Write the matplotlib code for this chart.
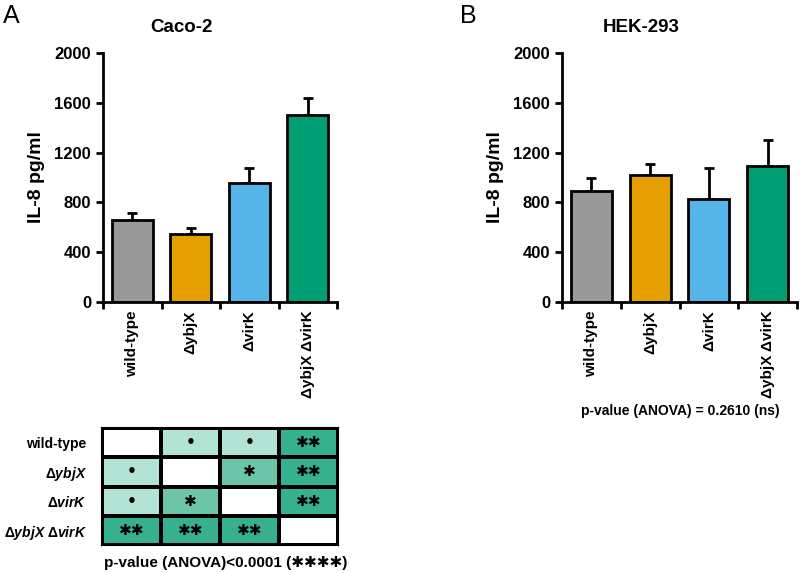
import numpy as np
import matplotlib
matplotlib.use('Agg')
import matplotlib.pyplot as plt
from matplotlib.colors import ListedColormap

plt.rcParams['font.family'] = ['Liberation Sans', 'DejaVu Sans']
plt.rcParams['font.weight'] = 'bold'
plt.rcParams['mathtext.fontset'] = 'custom'
plt.rcParams['mathtext.rm'] = 'Liberation Sans:bold'
plt.rcParams['mathtext.it'] = 'Liberation Sans:bold:italic'

# data
strains = ['wild-type', 'ΔybjX', 'ΔvirK', 'ΔybjX ΔvirK']
strains_it = ['wild-type', r'Δ$\mathit{ybjX}$', r'Δ$\mathit{virK}$',
              r'Δ$\mathit{ybjX}$ Δ$\mathit{virK}$']
bar_colors = ['#999999', '#e69f00', '#56b4e9', '#009e73']

caco_mean = [660, 545, 958, 1500]
caco_err = [58, 48, 118, 138]
hek_mean = [895, 1020, 825, 1093]
hek_err = [100, 85, 255, 208]

# pairwise significance (Caco-2)
sig = [['', '•', '•', '✱✱'],
       ['•', '', '✱', '✱✱'],
       ['•', '✱', '', '✱✱'],
       ['✱✱', '✱✱', '✱✱', '']]
sig_levels = {'': 0, '•': 1, '✱': 2, '✱✱': 3}
sig_colors = ['#ffffff', '#b3e3d5', '#6cc5a8', '#36b08e']

caco_p = 'p-value (ANOVA)<0.0001 (✱✱✱✱)'
hek_p = 'p-value (ANOVA) = 0.2610 (ns)'

fig = plt.figure(figsize=(8, 5.73), dpi=100)


def bar_panel(rect, means, errs):
    ax = fig.add_axes(rect)
    x = np.arange(len(means))
    ax.bar(x, means, width=0.7, color=bar_colors, edgecolor='black', linewidth=2, zorder=2)
    ax.errorbar(x, means, yerr=[np.zeros(len(errs)), errs], fmt='none', ecolor='black',
                elinewidth=2, capsize=3.5, capthick=2, zorder=1)
    ax.set_xlim(-0.5, len(means) - 0.5)
    ax.set_ylim(0, 2000)
    ax.set_yticks([0, 400, 800, 1200, 1600, 2000])
    ax.set_xticks(np.arange(-0.5, len(means)))
    ax.set_xticklabels([])
    for i, s in enumerate(strains):
        ax.text(i, -0.035, s, transform=ax.get_xaxis_transform(), rotation=90,
                ha='center', va='top', fontsize=11, fontweight='bold')
    ax.spines['top'].set_visible(False)
    ax.spines['right'].set_visible(False)
    ax.spines['left'].set_linewidth(2)
    ax.spines['bottom'].set_linewidth(2)
    ax.tick_params(axis='y', direction='out', width=2, length=5, labelsize=12)
    ax.tick_params(axis='x', direction='out', width=2, length=5)
    ax.set_ylabel('IL-8 pg/ml', fontsize=14, fontweight='bold', labelpad=7)
    return ax


axA = bar_panel([103 / 800, 1 - 302 / 573, 234 / 800, 249 / 573], caco_mean, caco_err)
axB = bar_panel([562 / 800, 1 - 302 / 573, 235 / 800, 249 / 573], hek_mean, hek_err)

fig.text(181 / 800, 1 - 28 / 573, 'Caco-2', ha='center', va='center', fontsize=13.5, fontweight='bold')
fig.text(641 / 800, 1 - 28 / 573, 'HEK-293', ha='center', va='center', fontsize=13.5, fontweight='bold')
fig.text(3 / 800, 1 - 16 / 573, 'A', ha='left', va='center', fontsize=18, fontweight='normal')
fig.text(460 / 800, 1 - 16 / 573, 'B', ha='left', va='center', fontsize=18, fontweight='normal')

# significance matrix
axT = fig.add_axes([102 / 800, 1 - 545 / 573, 236 / 800, 117 / 573])
levels = np.array([[sig_levels[s] for s in row] for row in sig])
axT.pcolormesh(levels, cmap=ListedColormap(sig_colors), vmin=-0.5, vmax=3.5,
               edgecolors='black', linewidth=1.5)
axT.set_xlim(0, 4)
axT.set_ylim(4, 0)
for r in range(4):
    for c in range(4):
        if sig[r][c]:
            axT.text(c + 0.5, r + 0.5, sig[r][c], ha='center', va='center',
                     fontsize=11, family=['DejaVu Sans'])
axT.set_xticks([])
axT.set_yticks(np.arange(4) + 0.5)
axT.set_yticklabels(strains_it, fontsize=10, fontweight='bold')
axT.tick_params(axis='y', length=0, pad=11)
for sp in axT.spines.values():
    sp.set_linewidth(1.5)

fig.text(226 / 800, 1 - 563 / 573, caco_p, ha='center', va='center', fontsize=11,
         fontweight='bold', family=['Liberation Sans', 'DejaVu Sans'])
fig.text(680 / 800, 1 - 411 / 573, hek_p, ha='center', va='center', fontsize=10,
         fontweight='bold')

fig.savefig('out.png', dpi=100)
